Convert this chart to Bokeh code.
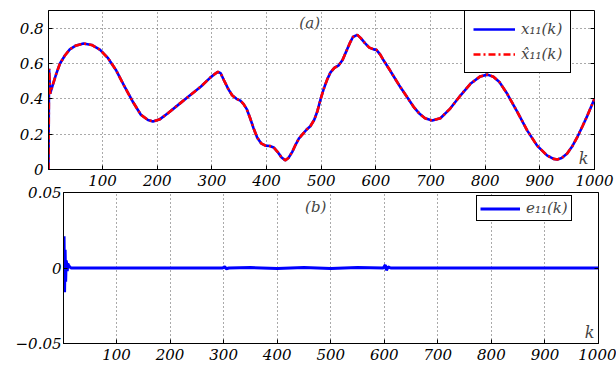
from bokeh.plotting import figure
from bokeh.models import (Legend, LegendItem, Label, CustomJSTickFormatter,
                          LinearAxis, FixedTicker)
from bokeh.embed import file_html
from bokeh.resources import INLINE

# ---------------- data ----------------
k_x = [1, 2, 4, 8, 15, 22, 31, 40, 50, 65, 80, 95, 110, 125, 140, 155, 170,
       183, 192, 205, 220, 240, 260, 280, 297, 305, 311, 316, 322, 330, 337,
       345, 352, 358, 364, 370, 376, 383, 390, 398, 406, 413, 420, 427, 434,
       440, 447, 453, 459, 466, 473, 480, 487, 493, 499, 505, 511, 517, 524,
       532, 539, 546, 553, 558, 566, 572, 580, 588, 596, 601, 608, 614, 624,
       633, 645, 657, 669, 680, 690, 703, 718, 736, 755, 773, 791, 804, 815,
       826, 840, 859, 877, 895, 913, 925, 932, 940, 950, 959, 968, 978, 987,
       1000]
x11 = [0.0, 0.57, 0.43, 0.47, 0.54, 0.60, 0.645, 0.68, 0.70, 0.713, 0.705,
       0.678, 0.63, 0.56, 0.47, 0.385, 0.31, 0.28, 0.272, 0.285, 0.32, 0.37,
       0.42, 0.47, 0.52, 0.54, 0.553, 0.545, 0.505, 0.455, 0.42, 0.40, 0.39,
       0.37, 0.34, 0.29, 0.235, 0.18, 0.148, 0.135, 0.133, 0.125, 0.10, 0.07,
       0.052, 0.065, 0.10, 0.14, 0.175, 0.20, 0.225, 0.245, 0.28, 0.33, 0.40,
       0.46, 0.51, 0.55, 0.575, 0.59, 0.62, 0.67, 0.72, 0.75, 0.762, 0.745,
       0.715, 0.69, 0.68, 0.677, 0.65, 0.618, 0.57, 0.525, 0.465, 0.41, 0.355,
       0.315, 0.29, 0.277, 0.29, 0.345, 0.42, 0.485, 0.527, 0.537, 0.525,
       0.495, 0.43, 0.325, 0.22, 0.135, 0.08, 0.06, 0.057, 0.065, 0.09, 0.13,
       0.18, 0.245, 0.305, 0.40]
xhat11 = list(x11)

k_e = [1, 2, 3, 4, 5, 6, 7, 8, 9, 10, 12, 15, 298, 302, 305, 310, 350, 400,
       450, 500, 550, 598, 602, 604, 607, 612, 1000]
e11 = [0.0, 0.021, -0.016, 0.012, -0.009, 0.005, 0.003, -0.002, 0.003, 0.002,
       0.001, 0.0, 0.0, 0.0008, -0.0005, 0.0, 0.0003, -0.0003, 0.0004,
       -0.0003, 0.0003, 0.0, 0.002, -0.0015, 0.0008, 0.0, 0.0]

x_ticks = [100, 200, 300, 400, 500, 600, 700, 800, 900, 1000]
y_ticks_a = [0, 0.2, 0.4, 0.6, 0.8]
y_ticks_b = [-0.05, 0, 0.05]

FONT = "DejaVu Serif"
FS = "15px"
fmt_code = ("var s = (Math.round(tick*1000)/1000).toString();"
            "return s.replace('-', '\u2212');")


def style(p, yt):
    p.xaxis.ticker = FixedTicker(ticks=x_ticks)
    p.yaxis.ticker = FixedTicker(ticks=yt)
    p.xgrid.ticker = FixedTicker(ticks=x_ticks)
    p.ygrid.ticker = FixedTicker(ticks=yt)
    for ax in (p.xaxis[0], p.yaxis[0]):
        ax.formatter = CustomJSTickFormatter(code=fmt_code)
        ax.major_label_text_font = FONT
        ax.major_label_text_font_style = "italic"
        ax.major_label_text_font_size = FS
        ax.major_label_text_color = "black"
        ax.axis_line_color = "black"
        ax.major_tick_in = 4
        ax.major_tick_out = 0
        ax.minor_tick_in = 0
        ax.minor_tick_out = 0
        ax.major_tick_line_color = "black"
    p.xaxis.major_label_standoff = 5
    p.yaxis.major_label_standoff = 5
    for g in (p.xgrid[0], p.ygrid[0]):
        g.grid_line_color = "#555555"
        g.grid_line_dash = "1 3"
        g.grid_line_width = 1
    p.outline_line_color = "black"
    p.outline_line_width = 1
    p.outline_line_alpha = 1
    # right ticks (box on)
    r = LinearAxis(ticker=FixedTicker(ticks=yt),
                   formatter=CustomJSTickFormatter(code="return '';"),
                   major_tick_in=4, major_tick_out=0, minor_tick_in=0,
                   minor_tick_out=0, axis_line_color=None,
                   major_label_standoff=0)
    p.add_layout(r, "right")


# ---------------- panel (a) ----------------
p1 = figure(width=616, height=192, x_range=(1, 1000), y_range=(0, 0.9),
            output_backend="svg", toolbar_location=None,
            min_border_left=48, min_border_right=22, min_border_top=10,
            min_border_bottom=23)
style(p1, y_ticks_a)
rb = p1.line(k_x, x11, line_color="#0000FF", line_width=2.6)
rr = p1.line(k_x, xhat11, line_color="#FF0000", line_width=2.6,
             line_dash="7 3 2 3")
leg1 = Legend(items=[LegendItem(label="x\u2081\u2081(k)", renderers=[rb]),
                     LegendItem(label="x\u0302\u2081\u2081(k)", renderers=[rr])],
              location=(416, 96), margin=0, padding=8, spacing=5,
              glyph_width=42, glyph_height=20, label_height=20,
              label_standoff=6, label_text_font=FONT,
              label_text_font_style="italic", label_text_font_size=FS,
              border_line_color="black", border_line_width=1,
              border_line_alpha=1, background_fill_alpha=1)
p1.add_layout(leg1)
p1.add_layout(Label(x=460, y=0.83, text="(a)", text_font=FONT,
                    text_font_style="italic", text_font_size="15px",
                    text_baseline="middle", text_align="left"))
p1.add_layout(Label(x=1000, y=0, x_offset=-6, y_offset=2, text="k",
                    text_font=FONT, text_font_style="italic",
                    text_font_size="16px", text_baseline="bottom",
                    text_align="right"))

# ---------------- panel (b) ----------------
p2 = figure(width=616, height=187, x_range=(1, 1000), y_range=(-0.05, 0.05),
            output_backend="svg", toolbar_location=None,
            min_border_left=63, min_border_right=18, min_border_top=12,
            min_border_bottom=24)
style(p2, y_ticks_b)
p2.yaxis.major_label_standoff = 2
p2.border_fill_alpha = 0
p2.styles = {"margin-top": "-12px"}
re = p2.line(k_e, e11, line_color="#0000FF", line_width=3)
leg2 = Legend(items=[LegendItem(label="e\u2081\u2081(k)", renderers=[re])],
              location=(413, 122), margin=0, padding=3, spacing=0,
              glyph_width=40, glyph_height=17, label_height=17,
              label_standoff=6, label_text_font=FONT,
              label_text_font_style="italic", label_text_font_size=FS,
              border_line_color="black", border_line_width=1,
              border_line_alpha=1, background_fill_alpha=1)
p2.add_layout(leg2)
p2.add_layout(Label(x=452, y=0.0406, text="(b)", text_font=FONT,
                    text_font_style="italic", text_font_size="15px",
                    text_baseline="middle", text_align="left"))
p2.add_layout(Label(x=1000, y=-0.05, x_offset=-4, y_offset=2, text="k",
                    text_font=FONT, text_font_style="italic",
                    text_font_size="16px", text_baseline="bottom",
                    text_align="right"))

html = file_html([p1, p2], INLINE)
html = html.replace("<head>", "<head><style>html,body{overflow:hidden}</style>", 1)
open("out.html", "w").write(html)
